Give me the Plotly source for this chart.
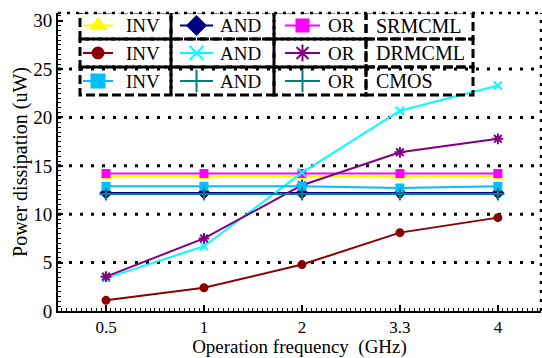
import plotly.graph_objects as go

# ---------------- data ----------------
freq_labels = ["0.5", "1", "2", "3.3", "4"]
y_ticks = [0, 5, 10, 15, 20, 25, 30]

groups = ["SRMCML", "DRMCML", "CMOS"]
gates = ["INV", "AND", "OR"]

srmcml_inv = [13.9, 13.9, 13.9, 13.9, 13.9]
srmcml_and = [12.2, 12.2, 12.2, 12.2, 12.2]
srmcml_or = [14.2, 14.2, 14.2, 14.2, 14.2]

drmcml_inv = [1.1, 2.4, 4.8, 8.1, 9.65]
drmcml_and = [3.4, 6.7, 14.3, 20.7, 23.3]
drmcml_or = [3.55, 7.5, 13.0, 16.4, 17.8]

cmos_inv = [12.9, 12.9, 12.9, 12.7, 12.9]
cmos_and = [12.1, 12.1, 12.1, 12.1, 12.1]
cmos_or = [12.1, 12.1, 12.1, 12.1, 12.1]

values = {
    ("SRMCML", "INV"): srmcml_inv, ("SRMCML", "AND"): srmcml_and, ("SRMCML", "OR"): srmcml_or,
    ("DRMCML", "INV"): drmcml_inv, ("DRMCML", "AND"): drmcml_and, ("DRMCML", "OR"): drmcml_or,
    ("CMOS", "INV"): cmos_inv, ("CMOS", "AND"): cmos_and, ("CMOS", "OR"): cmos_or,
}

# ---------------- styles ----------------
styles = {
    ("SRMCML", "INV"): ("#FFFF00", "triangle-up", 8, 14),
    ("SRMCML", "AND"): ("#000080", "diamond", 8, 14),
    ("SRMCML", "OR"): ("#FF00FF", "square", 7, 12),
    ("DRMCML", "INV"): ("#8B0000", "circle", 7, 11),
    ("DRMCML", "AND"): ("#00FFFF", "x-thin", 8, 14),
    ("DRMCML", "OR"): ("#800080", "asterisk", 9, 14),
    ("CMOS", "INV"): ("#00BFFF", "square", 7, 13),
    ("CMOS", "AND"): ("#008080", "cross-thin", 9, 16),
    ("CMOS", "OR"): ("#008080", "cross-thin", 9, 16),
}
FONT = "Liberation Serif, Times New Roman, serif"
FS = 19

xi = list(range(len(freq_labels)))

fig = go.Figure()
for g in groups:
    for gate in gates:
        color, sym, msize, _ = styles[(g, gate)]
        fig.add_trace(go.Scatter(
            x=xi, y=values[(g, gate)], mode="lines+markers",
            name=f"{gate} {g}", showlegend=False,
            line=dict(color=color, width=2),
            marker=dict(symbol=sym, size=msize, color=color,
                        line=dict(color=color, width=2)),
        ))

shapes = []
annotations = []

# gridlines (dotted)
for v in y_ticks[1:-1]:
    shapes.append(dict(type="line", xref="paper", yref="y", x0=0, x1=1, y0=v, y1=v,
                       line=dict(color="black", width=3, dash="3px,8px"), layer="below"))
# dotted top and right border
shapes.append(dict(type="line", xref="paper", yref="paper", x0=0, x1=1, y0=1, y1=1,
                   line=dict(color="black", width=2.5, dash="3px,6px")))
shapes.append(dict(type="line", xref="paper", yref="paper", x0=1, x1=1, y0=0, y1=1,
                   line=dict(color="black", width=2.5, dash="3px,6px")))

# ---------------- manual legend (pixel-like overlay axes) ----------------
row_edges = [(12, 39), (39, 67), (67, 95)]
col_edges = [(80, 171), (171, 274), (274, 366), (366, 473)]
sample_line = [(83, 113), (180, 213), (285, 320)]
text_x = [124, 218, 326, 374]

for r, g in enumerate(groups):
    y0, y1 = row_edges[r]
    yc = (y0 + y1) / 2
    for c in range(4):
        x0, x1 = col_edges[c]
        shapes.append(dict(type="rect", xref="x2", yref="y2", x0=x0, x1=x1, y0=y0, y1=y1,
                           line=dict(color="black", width=3, dash="9px,4px")))
    for c, gate in enumerate(gates):
        color, sym, _, lsize = styles[(g, gate)]
        lx0, lx1 = sample_line[c]
        shapes.append(dict(type="line", xref="x2", yref="y2", x0=lx0, x1=lx1, y0=yc, y1=yc,
                           line=dict(color=color, width=2)))
        fig.add_trace(go.Scatter(
            x=[(lx0 + lx1) / 2], y=[yc], xaxis="x2", yaxis="y2", mode="markers",
            showlegend=False, hoverinfo="skip",
            marker=dict(symbol=sym, size=lsize, color=color, line=dict(color=color, width=2)),
        ))
        annotations.append(dict(x=text_x[c], y=yc, xref="x2", yref="y2", text=gate,
                                showarrow=False, xanchor="left", yanchor="middle",
                                font=dict(family=FONT, size=FS, color="black")))
    annotations.append(dict(x=text_x[3], y=yc, xref="x2", yref="y2", text=g,
                            showarrow=False, xanchor="left", yanchor="middle",
                            font=dict(family=FONT, size=20, color="black")))

fig.update_layout(
    width=542, height=358,
    margin=dict(l=58, r=1, t=13, b=47),
    paper_bgcolor="white", plot_bgcolor="white",
    font=dict(family=FONT, size=FS, color="black"),
    xaxis=dict(
        range=[-0.49, 4.44], tickvals=xi, ticktext=freq_labels,
        showgrid=False, zeroline=False, showline=True, linecolor="black", linewidth=2,
        ticks="inside", ticklen=6, tickwidth=1.5, tickcolor="black",
        minor=dict(dtick=0.05, tick0=0, ticks="inside", ticklen=3, tickwidth=1.2, tickcolor="black"),
        title=dict(text="Operation frequency  (GHz)", standoff=4, font=dict(size=FS)),
        tickfont=dict(size=17),
    ),
    yaxis=dict(
        range=[0, 30.8], tickvals=y_ticks,
        showgrid=False, zeroline=False, showline=True, linecolor="black", linewidth=2,
        ticks="inside", ticklen=5, tickwidth=1.5, tickcolor="black",
        minor=dict(dtick=0.5, ticks="inside", ticklen=3, tickwidth=1.2, tickcolor="black"),
        title=dict(text="Power dissipation (uW)", standoff=0, font=dict(size=20)),
        tickfont=dict(size=FS),
    ),
    xaxis2=dict(overlaying="x", range=[58, 541], visible=False, anchor="y2"),
    yaxis2=dict(overlaying="y", range=[311, 13], visible=False, anchor="x2"),
    shapes=shapes, annotations=annotations,
)

fig.write_html("out.html", config={"displayModeBar": False},
               post_script="document.body.style.margin='0';document.body.style.padding='0';")
